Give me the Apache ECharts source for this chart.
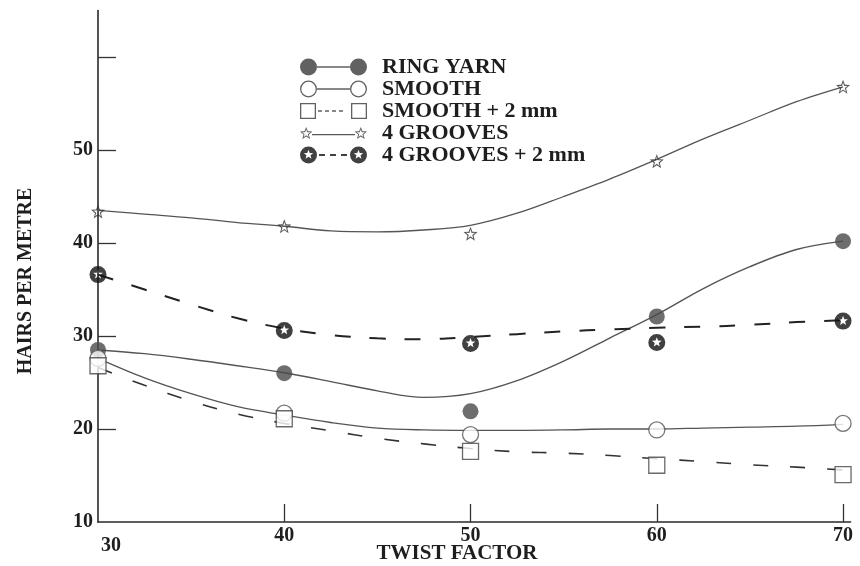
<!DOCTYPE html>
<html>
<head>
<meta charset="utf-8">
<script src="https://cdn.jsdelivr.net/npm/echarts@6/dist/echarts.min.js"></script>
<style>
  html, body { margin: 0; padding: 0; background: #ffffff; }
  #chart { width: 860px; height: 566px; }
</style>
</head>
<body>
<div id="chart"></div>
<script>
// ---------- data ----------
const twist = [30, 40, 50, 60, 70];
const ringYarn = [28.5, 26.0, 21.9, 32.1, 40.2];
const smooth = [27.6, 21.7, 19.4, 19.9, 20.6];
const smooth2mm = [26.8, 21.1, 17.6, 16.1, 15.1];
const grooves4 = [43.4, 41.8, 41.0, 48.8, 56.8];
const grooves4mm2 = [36.6, 30.6, 29.2, 29.3, 31.6];

// fitted curves as drawn in the reference, read every 2.5 units of twist factor
const curveX = [30, 32.5, 35, 37.5, 40, 42.5, 45, 47.5, 50, 52.5, 55, 57.5, 60, 62.5, 65, 67.5, 70];
const ringYarnCurve = [28.5, 28.1, 27.5, 26.8, 26.05, 25.1, 24.1, 23.4, 23.8, 25.2, 27.3, 29.8, 32.3, 35.1, 37.45, 39.3, 40.2];
const smoothCurve = [27.6, 25.5, 23.8, 22.4, 21.5, 20.7, 20.1, 19.9, 19.85, 19.85, 19.9, 20.0, 20.0, 20.1, 20.2, 20.3, 20.5];
const smooth2mmCurve = [26.6, 24.7, 23.0, 21.6, 20.6, 19.8, 19.0, 18.4, 17.9, 17.55, 17.4, 17.15, 16.8, 16.5, 16.15, 15.9, 15.6];
const grooves4Curve = [43.5, 43.1, 42.7, 42.2, 41.8, 41.3, 41.2, 41.4, 41.9, 43.2, 45.0, 46.9, 49.0, 51.2, 53.2, 55.2, 56.8];
const grooves4mm2Curve = [36.6, 35.0, 33.4, 31.9, 30.8, 30.1, 29.75, 29.65, 29.9, 30.2, 30.5, 30.7, 30.9, 31.0, 31.2, 31.5, 31.7];

const seriesNames = ['RING YARN', 'SMOOTH', 'SMOOTH + 2 mm', '4 GROOVES', '4 GROOVES + 2 mm'];
const xTickLabels = [30, 40, 50, 60, 70];
const xTicks = [40, 50, 60, 70];
const yTickLabels = [10, 20, 30, 40, 50];
const yTicks = [20, 30, 40, 50, 60];

// ---------- symbol path helpers ----------
function circ(cx, cy, r, cw) {
  const s = cw ? 1 : 0;
  return `M${cx - r},${cy} A${r},${r} 0 1,${s} ${cx + r},${cy} A${r},${r} 0 1,${s} ${cx - r},${cy} Z`;
}
function star(cx, cy, ro, ri, cw) {
  let d = '';
  for (let k = 0; k < 10; k++) {
    const ang = (-90 + (cw ? 1 : -1) * k * 36) * Math.PI / 180;
    const r = k % 2 === 0 ? ro : ri;
    d += (k === 0 ? 'M' : 'L') + (cx + r * Math.cos(ang)).toFixed(2) + ',' + (cy + r * Math.sin(ang)).toFixed(2) + ' ';
  }
  return d + 'Z';
}
function sq(x0, y0, x1, y1, cw) {
  return cw
    ? `M${x0},${y0} L${x1},${y0} L${x1},${y1} L${x0},${y1} Z`
    : `M${x0},${y0} L${x0},${y1} L${x1},${y1} L${x1},${y0} Z`;
}
function bar(x0, x1, y, t) {
  return sq(x0, y - t / 2, x1, y + t / 2, true);
}
function dashes(x0, x1, y, t, len, gap) {
  let d = '';
  for (let x = x0; x + len <= x1 + 0.01; x += len + gap) d += bar(x, x + len, y, t) + ' ';
  return d;
}

const starSymbol = 'path://' + star(0, 0, 10, 4.3, true) + ' ' + star(0, 0, 6.6, 2.5, false);
const groovedSymbol = 'path://' + circ(0, 0, 10, true) + ' ' + star(0, -0.3, 6, 2.5, false);

// legend icons (67 x 17) – markers at both ends like the original key
const iconRing = 'path://' + circ(8.5, 8.5, 8.5, true) + ' ' + circ(58.5, 8.5, 8.5, true) + ' ' + bar(17, 50, 8.5, 1.3);
const iconSmooth = 'path://' + circ(8.5, 8.5, 8.5, true) + ' ' + circ(8.5, 8.5, 7.2, false) + ' ' +
  circ(58.5, 8.5, 8.5, true) + ' ' + circ(58.5, 8.5, 7.2, false) + ' ' + bar(17, 50, 8.5, 1.3);
const iconSmooth2 = 'path://' + sq(0, 0.5, 16, 16.5, true) + ' ' + sq(1.3, 1.8, 14.7, 15.2, false) + ' ' +
  sq(51, 0.5, 67, 16.5, true) + ' ' + sq(52.3, 1.8, 65.7, 15.2, false) + ' ' + dashes(18, 49, 8.5, 1.3, 4, 3);
const iconGroove = 'path://' + star(6.2, 6.5, 6.5, 2.8, true) + ' ' + star(6.2, 6.5, 4.4, 1.7, false) + ' ' +
  star(60.8, 6.5, 6.5, 2.8, true) + ' ' + star(60.8, 6.5, 4.4, 1.7, false) + ' ' + bar(12, 55, 7.5, 1.4);
const iconGroove2 = 'path://' + circ(8.5, 8.5, 8.5, true) + ' ' + star(8.5, 8.2, 5, 2.1, false) + ' ' +
  circ(58.5, 8.5, 8.5, true) + ' ' + star(58.5, 8.2, 5, 2.1, false) + ' ' + dashes(19, 50, 8.5, 1.8, 6, 5);

const serif = '"Liberation Serif", "DejaVu Serif", serif';

function pts(ys) { return twist.map((x, i) => [x, ys[i]]); }
function cpts(ys) { return curveX.map((x, i) => [x, ys[i]]); }

function curve(name, ys, lineStyle) {
  return {
    name: name + ' (fit)', type: 'line', data: cpts(ys), smooth: 0.35,
    symbol: 'none', z: 2, silent: true, lineStyle: lineStyle
  };
}
function marks(name, ys, symbol, size, itemStyle) {
  return {
    name: name, type: 'scatter', data: pts(ys), symbol: symbol, symbolSize: size,
    z: 5, itemStyle: itemStyle
  };
}

const chart = echarts.init(document.getElementById('chart'), null, { renderer: 'canvas' });

chart.setOption({
  backgroundColor: '#ffffff',
  animation: false,
  grid: { left: 98, right: 9.5, top: 10.5, bottom: 44, containLabel: false },
  xAxis: {
    type: 'value', min: 30, max: 70.4,
    axisLine: { show: true, onZero: false, lineStyle: { color: '#2a2a2a', width: 1.6 } },
    axisTick: { show: true, inside: true, length: 18, customValues: xTicks,
      lineStyle: { color: '#333', width: 1.3 } },
    axisLabel: {
      customValues: xTickLabels, margin: 4,
      fontFamily: serif, fontWeight: 'bold', fontSize: 20, color: '#1e1e1e',
      formatter: v => (v === 30 ? '{a|' + v + '}' : String(v)),
      rich: { a: { fontFamily: serif, fontWeight: 'bold', fontSize: 20, color: '#1e1e1e', padding: [10, 0, 0, 26] } }
    },
    splitLine: { show: false }
  },
  yAxis: {
    type: 'value', min: 10, max: 65,
    axisLine: { show: true, lineStyle: { color: '#2a2a2a', width: 1.6 } },
    axisTick: { show: true, inside: true, length: 18, customValues: yTicks,
      lineStyle: { color: '#333', width: 1.3 } },
    axisLabel: {
      customValues: yTickLabels, margin: 5,
      fontFamily: serif, fontWeight: 'bold', fontSize: 20, color: '#1e1e1e'
    },
    splitLine: { show: false }
  },
  legend: {
    orient: 'vertical', left: 295, top: 51,
    itemWidth: 67, itemHeight: 17, itemGap: 0,
    selectedMode: false,
    textStyle: { fontFamily: serif, fontWeight: 'bold', fontSize: 22, color: '#1e1e1e', padding: [0, 0, 0, 10] },
    data: [
      { name: seriesNames[0], icon: iconRing, itemStyle: { color: '#3a3a3a', borderWidth: 0 } },
      { name: seriesNames[1], icon: iconSmooth, itemStyle: { color: '#3a3a3a', borderWidth: 0 } },
      { name: seriesNames[2], icon: iconSmooth2, itemStyle: { color: '#3a3a3a', borderWidth: 0 } },
      { name: seriesNames[3], icon: iconGroove, itemStyle: { color: '#2e2e2e', borderWidth: 0 } },
      { name: seriesNames[4], icon: iconGroove2, itemStyle: { color: '#111111', borderWidth: 0 } }
    ]
  },
  graphic: [
    { type: 'text', x: 26, y: 281, rotation: Math.PI / 2, silent: true,
      style: { text: 'HAIRS PER METRE', fill: '#1e1e1e', font: 'bold 20px ' + serif, align: 'center', verticalAlign: 'middle' } },
    { type: 'text', x: 457, y: 554, silent: true,
      style: { text: 'TWIST FACTOR', fill: '#1e1e1e', font: 'bold 21px ' + serif, align: 'center', verticalAlign: 'middle' } }
  ],
  series: [
    curve(seriesNames[0], ringYarnCurve, { color: '#555', width: 1.4, type: 'solid' }),
    curve(seriesNames[1], smoothCurve, { color: '#555', width: 1.3, type: 'solid' }),
    curve(seriesNames[2], smooth2mmCurve, { color: '#333', width: 1.6, type: [15, 22] }),
    curve(seriesNames[3], grooves4Curve, { color: '#555', width: 1.3, type: 'solid' }),
    curve(seriesNames[4], grooves4mm2Curve, { color: '#222', width: 2, type: [16, 19] }),
    marks(seriesNames[0], ringYarn, 'circle', 16, { color: '#4a4a4a' }),
    marks(seriesNames[1], smooth, 'circle', 16, { color: '#ffffff', borderColor: '#555', borderWidth: 1.3 }),
    marks(seriesNames[2], smooth2mm, 'rect', 16, { color: '#ffffff', borderColor: '#444', borderWidth: 1.3 }),
    marks(seriesNames[3], grooves4, starSymbol, 14, { color: '#2e2e2e' }),
    marks(seriesNames[4], grooves4mm2, groovedSymbol, 17, { color: '#111111' })
  ]
});
</script>
</body>
</html>
